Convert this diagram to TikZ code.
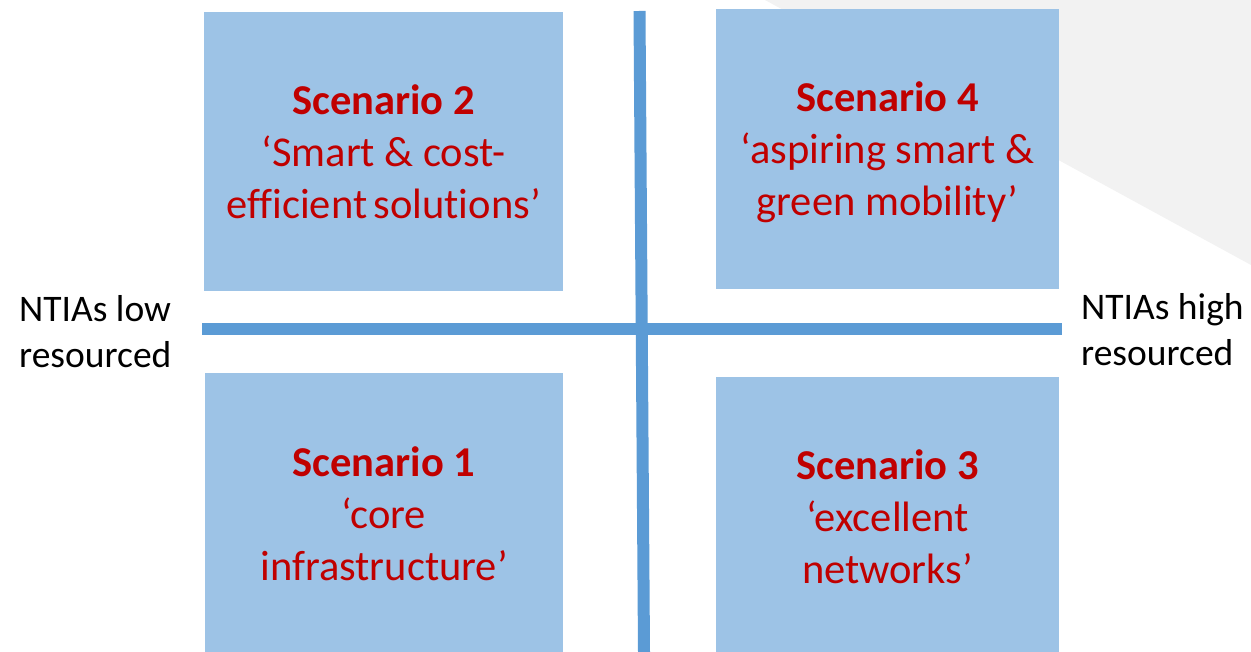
\documentclass[tikz,border=0pt]{standalone}
\usepackage{fontspec}
\setmainfont{Carlito}[Ligatures={NoCommon}]
\definecolor{boxblue}{HTML}{9DC3E6}
\definecolor{lineblue}{HTML}{5B9BD5}
\definecolor{scred}{HTML}{C00000}
\definecolor{bggray}{HTML}{F2F2F2}
\begin{document}
\begin{tikzpicture}[x=1pt,y=-1pt,
  quad/.style={fill=boxblue, draw=none, inner sep=0pt},
  qtext/.style={inner sep=0pt, text=scred, align=center,
    font=\fontsize{42.5}{52}\selectfont},
  axis/.style={draw=lineblue, line width=12pt},
  side/.style={inner sep=0pt, align=left, font=\fontsize{37.5}{46}\selectfont, text=black}]
\useasboundingbox (0,0) rectangle (1251,652);
\fill[bggray] (765,0) -- (1251,0) -- (1251,265) -- cycle;
\node[quad, minimum width=359pt, minimum height=279pt] (s2) at (383.5,151.5) {};
\node[quad, minimum width=343pt, minimum height=280pt] (s4) at (887.5,149) {};
\node[quad, minimum width=358pt, minimum height=279pt] (s1) at (384,512.5) {};
\node[quad, minimum width=343pt, minimum height=275pt] (s3) at (887.5,514.5) {};
\node[qtext] (t2) at ([yshift=0pt]s2.center)
  {\textbf{Scenario 2}\\‘Smart \& cost-\\efficient\hspace{0.15em}solutions’};
\node[qtext] (t4) at ([yshift=-3pt]s4.center)
  {\textbf{Scenario 4}\\‘aspiring smart \&\\green mobility’};
\node[qtext] (t1) at ([yshift=-1pt]s1.center)
  {\textbf{Scenario 1}\\‘core\\infrastructure’};
\node[qtext] (t3) at ([yshift=-2pt]s3.center)
  {\textbf{Scenario 3}\\‘excellent\\networks’};
\coordinate (hl) at (202,329);
\coordinate (hr) at (1062,329);
\coordinate (vt) at (639.5,11);
\coordinate (vb) at (644,652);
\draw[axis] (hl) -- (hr);
\draw[axis] (vt) -- (vb);
\node[side, anchor=west] (low) at (19,332) {NTIAs low\\resourced};
\node[side, anchor=west] (high) at (1081,330) {NTIAs high\\resourced};
\end{tikzpicture}
\end{document}
